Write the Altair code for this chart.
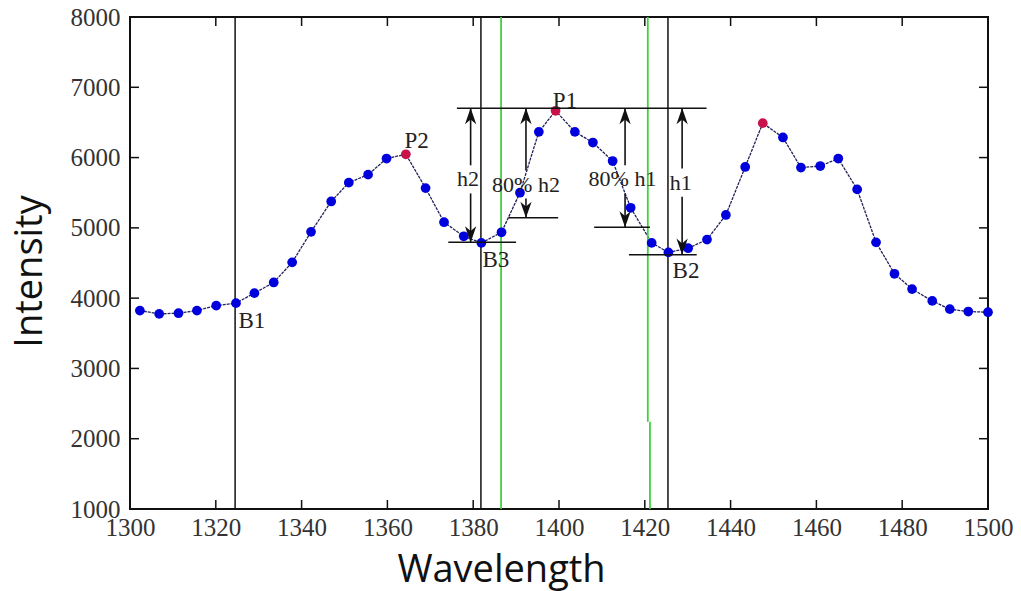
import altair as alt
import pandas as pd

# ---- data ----
wavelength = [1302.3, 1306.8, 1311.3, 1315.6, 1320.1, 1324.7, 1329.0, 1333.5, 1337.8, 1342.2,
              1346.9, 1351.0, 1355.5, 1359.8, 1364.3, 1368.9, 1373.2, 1377.8, 1381.9, 1386.6,
              1390.9, 1395.3, 1399.2, 1403.7, 1407.9, 1412.5, 1416.7, 1421.6, 1425.5, 1430.1,
              1434.5, 1438.9, 1443.4, 1447.5, 1452.2, 1456.4, 1460.9, 1465.1, 1469.5, 1473.9,
              1478.2, 1482.3, 1487.0, 1491.1, 1495.4, 1500.0]
intensity = [3823, 3776, 3786, 3823, 3894, 3929, 4071, 4223, 4509, 4943,
             5376, 5643, 5757, 5986, 6047, 5566, 5080, 4880, 4786, 4937,
             5500, 6366, 6666, 6366, 6214, 5951, 5286, 4786, 4651, 4710,
             4833, 5183, 5866, 6490, 6286, 5857, 5880, 5986, 5547, 4794,
             4347, 4129, 3961, 3843, 3809, 3800]
peak_index = [14, 22, 33]

black_vlines = [1324.5, 1381.8, 1425.4]
green_x = [1386.5, 1420.7, 1421.2]
green_y1 = [1000, 2240, 1000]
green_y2 = [8000, 8000, 2240]

hseg_x1 = [1376.2, 1374.2, 1388.2, 1408.2, 1416.3]
hseg_x2 = [1434.4, 1390.0, 1399.8, 1421.2, 1432.1]
hseg_y = [6703, 4794, 5143, 5009, 4619]

arrow_x = [1379.4, 1392.3, 1415.4, 1428.7]
arrow_top = [6703, 6703, 6703, 6703]
arrow_bottom = [4794, 5143, 5009, 4619]
arrow_label = ["h2", "80% h2", "80% h1", "h1"]
arrow_label_x = [1378.8, 1392.3, 1414.8, 1428.4]
arrow_label_y = [5690, 5616, 5690, 5643]
label_gap = 200

point_label = ["P1", "P2", "B1", "B3", "B2"]
point_label_x = [1401.4, 1366.8, 1328.4, 1385.3, 1429.6]
point_label_y = [6809, 6237, 3680, 4540, 4393]

x_ticks = list(range(1300, 1501, 20))
y_ticks = list(range(1000, 8001, 1000))

W, H = 858, 492
XD = [1300, 1500]
YD = [1000, 8000]

# ---- tables ----
spec = pd.DataFrame({"wl": wavelength, "inten": intensity})
spec["kind"] = ["peak" if i in peak_index else "normal" for i in range(len(spec))]

vl = pd.DataFrame({"x": black_vlines})
gl = pd.DataFrame({"x": green_x, "y1": green_y1, "y2": green_y2})
hs = pd.DataFrame({"x1": hseg_x1, "x2": hseg_x2, "y": hseg_y})
ar = pd.DataFrame({"x": arrow_x, "top": arrow_top, "bottom": arrow_bottom,
                   "lab": arrow_label, "lx": arrow_label_x, "ly": arrow_label_y})
ar["up_end"] = ar["ly"] + label_gap
ar["low_start"] = ar["ly"] - label_gap
pl = pd.DataFrame({"lab": point_label, "x": point_label_x, "y": point_label_y})
xt = pd.DataFrame({"v": x_ticks})
yt = pd.DataFrame({"v": y_ticks})

xs = alt.Scale(domain=XD, nice=False, zero=False)
ys = alt.Scale(domain=YD, nice=False, zero=False)

xaxis = alt.Axis(values=x_ticks, format="d", ticks=False, domain=False, grid=False,
                 labelFont="Liberation Serif", labelFontSize=25, labelColor="#333",
                 labelPadding=6, title="Wavelength", titleFont="Open Sans",
                 titleFontSize=38, titleFontWeight="normal", titleColor="#111",
                 titleX=371, titleY=72, titleBaseline="alphabetic",
                 titleAlign="center", labelFlush=False, labelOverlap=False)
yaxis = alt.Axis(values=y_ticks, format="d", ticks=False, domain=False, grid=False,
                 labelFont="Liberation Serif", labelFontSize=25, labelColor="#333",
                 labelPadding=10, title="Intensity", titleFont="Open Sans",
                 titleFontSize=38, titleFontWeight="normal", titleColor="#111",
                 titleX=-100, titleY=254, titleAngle=-90, titleBaseline="middle",
                 titleAlign="center", labelFlush=False, labelOverlap=False)

base_line = alt.Chart(spec).mark_line(color="#22225a", strokeWidth=1.3,
                                      strokeDash=[3, 1]).encode(
    x=alt.X("wl:Q", scale=xs, axis=xaxis),
    y=alt.Y("inten:Q", scale=ys, axis=yaxis),
)

points = alt.Chart(spec).mark_point(filled=True, shape="circle", size=95, opacity=1).encode(
    x=alt.X("wl:Q", scale=xs),
    y=alt.Y("inten:Q", scale=ys),
    color=alt.Color("kind:N", scale=alt.Scale(domain=["normal", "peak"],
                                              range=["#0000dd", "#c8124c"]), legend=None),
)

vrules = alt.Chart(vl).mark_rule(color="#111", strokeWidth=1.5).encode(
    x=alt.X("x:Q", scale=xs), y=alt.value(0), y2=alt.value(H))

grules = alt.Chart(gl).mark_rule(color="#3fd23f", strokeWidth=1.8).encode(
    x=alt.X("x:Q", scale=xs), y=alt.Y("y1:Q", scale=ys), y2="y2:Q")

hrules = alt.Chart(hs).mark_rule(color="#111", strokeWidth=1.5).encode(
    x=alt.X("x1:Q", scale=xs), x2="x2:Q", y=alt.Y("y:Q", scale=ys))

shaft_up = alt.Chart(ar).mark_rule(color="#111", strokeWidth=1.6).encode(
    x=alt.X("x:Q", scale=xs), y=alt.Y("top:Q", scale=ys), y2="up_end:Q")
shaft_low = alt.Chart(ar).mark_rule(color="#111", strokeWidth=1.6).encode(
    x=alt.X("x:Q", scale=xs), y=alt.Y("low_start:Q", scale=ys), y2="bottom:Q")

head_up = alt.Chart(ar).mark_point(
    shape="M0,-1 L0.7,1 L0,0.4 L-0.7,1 Z", filled=True, color="#111",
    size=260, opacity=1, yOffset=8).encode(
    x=alt.X("x:Q", scale=xs), y=alt.Y("top:Q", scale=ys))
head_down = alt.Chart(ar).mark_point(
    shape="M0,1 L0.7,-1 L0,-0.4 L-0.7,-1 Z", filled=True, color="#111",
    size=260, opacity=1, yOffset=-8).encode(
    x=alt.X("x:Q", scale=xs), y=alt.Y("bottom:Q", scale=ys))

arrow_text = alt.Chart(ar).mark_text(font="Liberation Serif", fontSize=22, color="#222",
                                     align="center", baseline="middle").encode(
    x=alt.X("lx:Q", scale=xs), y=alt.Y("ly:Q", scale=ys), text="lab:N")

point_text = alt.Chart(pl).mark_text(font="Liberation Serif", fontSize=23, color="#222",
                                     align="center", baseline="middle").encode(
    x=alt.X("x:Q", scale=xs), y=alt.Y("y:Q", scale=ys), text="lab:N")

tick_b = alt.Chart(xt).mark_rule(color="#111", strokeWidth=1.5).encode(
    x=alt.X("v:Q", scale=xs), y=alt.value(H), y2=alt.value(H - 9))
tick_t = alt.Chart(xt).mark_rule(color="#111", strokeWidth=1.5).encode(
    x=alt.X("v:Q", scale=xs), y=alt.value(0), y2=alt.value(9))
tick_l = alt.Chart(yt).mark_rule(color="#111", strokeWidth=1.5).encode(
    y=alt.Y("v:Q", scale=ys), x=alt.value(0), x2=alt.value(9))
tick_r = alt.Chart(yt).mark_rule(color="#111", strokeWidth=1.5).encode(
    y=alt.Y("v:Q", scale=ys), x=alt.value(W), x2=alt.value(W - 9))

chart = alt.layer(
    base_line, vrules, grules, points, hrules, shaft_up, shaft_low,
    head_up, head_down, arrow_text, point_text, tick_b, tick_t, tick_l, tick_r
).properties(
    width=W, height=H,
    autosize=alt.AutoSizeParams(type="none"),
    padding={"left": 130, "top": 17, "right": 33, "bottom": 82},
    background="white",
).configure_view(stroke="#111", strokeWidth=2)

chart.save("out.html", embed_options={"renderer": "svg", "actions": False})
